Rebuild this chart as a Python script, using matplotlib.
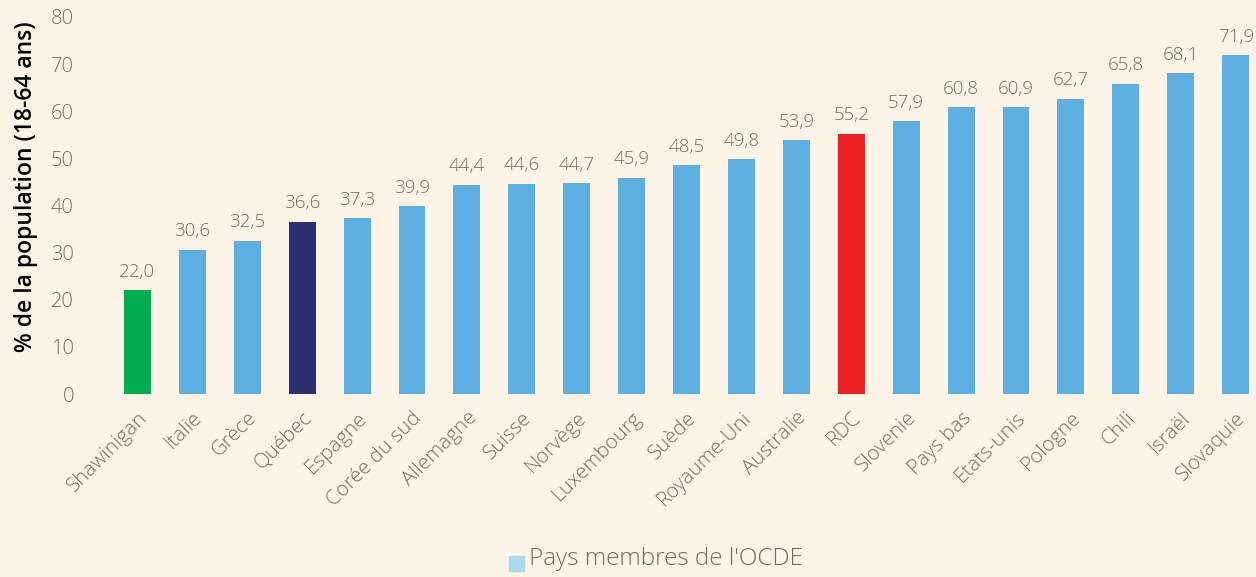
import matplotlib
matplotlib.use('Agg')
import matplotlib.pyplot as plt
from matplotlib.patches import Rectangle

countries = ['Shawinigan', 'Italie', 'Grèce', 'Québec', 'Espagne', 'Corée du sud',
             'Allemagne', 'Suisse', 'Norvège', 'Luxembourg', 'Suède', 'Royaume-Uni',
             'Australie', 'RDC', 'Slovenie', 'Pays bas', 'Etats-unis', 'Pologne',
             'Chili', 'Israël', 'Slovaquie']
values = [22.0, 30.6, 32.5, 36.6, 37.3, 39.9, 44.4, 44.6, 44.7, 45.9, 48.5, 49.8,
          53.9, 55.2, 57.9, 60.8, 60.9, 62.7, 65.8, 68.1, 71.9]
yticks = [0, 10, 20, 30, 40, 50, 60, 70, 80]

BG = '#fef3e7'
BLUE = '#5dafe1'
special = {'Shawinigan': '#00ad4e', 'Québec': '#2b3073', 'RDC': '#ee2024'}
colors = [special.get(c, BLUE) for c in countries]
GREY = '#776b67'

plt.rcParams['font.family'] = ['Open Sans', 'DejaVu Sans']

fig = plt.figure(figsize=(12.56, 5.77), dpi=100, facecolor=BG)
ax = fig.add_axes([110/1256, 1 - 394/577, 1 - 110/1256, (394 - 17)/577])
ax.set_facecolor(BG)

x = range(len(countries))
ax.bar(x, values, width=0.49, color=colors)
for i, v in enumerate(values):
    ax.text(i, v + 2.0, f'{v:.1f}'.replace('.', ','), ha='center', va='bottom',
            fontsize=13.5, color=GREY, fontweight='light')

ax.set_xlim(-0.5, 20.37)
ax.set_ylim(0, 80)
ax.set_yticks(yticks)
ax.set_yticklabels([str(t) for t in yticks], fontsize=14.5, color=GREY,
                   fontweight='light')
ax.set_xticks(list(x))
ax.set_xticklabels(countries, rotation=45, ha='right', rotation_mode='anchor',
                   fontsize=14.8, color=GREY, fontweight='light')
ax.tick_params(length=0, axis='both')
ax.tick_params(axis='y', pad=26)
ax.tick_params(axis='x', pad=10)
for s in ax.spines.values():
    s.set_visible(False)

fig.text(0.021, 1 - 187/577, '% de la population (18-64 ans)', rotation=90,
         ha='center', va='center', fontsize=16.5, fontweight='semibold', color='black')

# legend
fig.patches.append(Rectangle((509/1256, 1 - 571/577), 15/1256, 15/577,
                             transform=fig.transFigure, color='#acd8ee'))
fig.text(529/1256, 1 - 559/577, "Pays membres de l'OCDE", ha='left', va='center',
         fontsize=17.5, color=GREY, fontweight='light')

fig.savefig('out.png', dpi=100, facecolor=BG)
